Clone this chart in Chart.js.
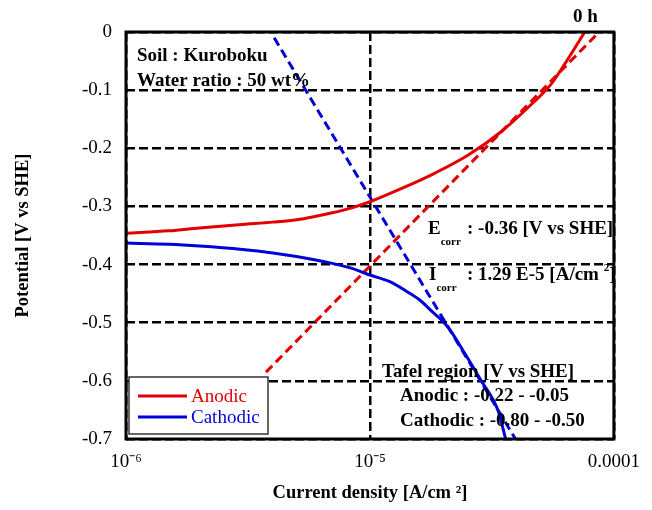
<!DOCTYPE html>
<html>
<head>
<meta charset="utf-8">
<script src="https://cdn.jsdelivr.net/npm/chart.js@4"></script>
<style>
  body { margin: 0; background: #fff; }
  #wrap { width: 652px; height: 510px; }
</style>
</head>
<body>
<div id="wrap"><canvas id="tafelChart"></canvas></div>
<script>
// Tafel plot (Kuroboku soil, 0 h)
const serif = '"Liberation Serif", "Times New Roman", serif';
const red = 'rgb(226,0,0)';
const blue = 'rgb(0,0,215)';

const xTicks = [1e-6, 1e-5, 1e-4];
const xTickLabels = ['10⁻⁶', '10⁻⁵', '0.0001'];
const yTicks = [0, -0.1, -0.2, -0.3, -0.4, -0.5, -0.6, -0.7];
const yTickLabels = ['0', '-0.1', '-0.2', '-0.3', '-0.4', '-0.5', '-0.6', '-0.7'];

// measured curves
const anodicI = [1e-6, 1.5e-6, 2e-6, 3e-6, 4e-6, 5e-6, 6e-6, 7e-6, 8.5e-6, 1e-5, 1.35e-5, 1.84e-5, 2.52e-5, 3.44e-5, 4.71e-5, 5.5e-5, 6.4e-5, 7.6e-5];
const anodicE = [-0.346, -0.342, -0.337, -0.331, -0.327, -0.323, -0.317, -0.311, -0.302, -0.292, -0.269, -0.243, -0.212, -0.172, -0.120, -0.091, -0.050, 0];
const cathodicI = [1e-6, 1.5e-6, 2e-6, 3e-6, 4e-6, 5e-6, 6e-6, 7e-6, 8.5e-6, 1e-5, 1.2e-5, 1.4e-5, 1.6e-5, 1.8e-5, 1.95e-5, 2.1e-5, 2.45e-5, 2.85e-5, 3.35e-5, 3.6e-5];
const cathodicE = [-0.363, -0.365, -0.368, -0.374, -0.380, -0.386, -0.392, -0.398, -0.407, -0.418, -0.429, -0.445, -0.461, -0.481, -0.494, -0.509, -0.553, -0.599, -0.651, -0.700];

// Tafel fit lines
const anodicTafelI = [3.75e-6, 8.7e-5];
const anodicTafelE = [-0.585, 0];
const cathodicTafelI = [4.05e-6, 3.95e-5];
const cathodicTafelE = [-0.01, -0.70];

const pts = (xs, ys) => xs.map((x, i) => ({ x: x, y: ys[i] }));

// frame, legend and notes
const decor = {
  id: 'decor',
  afterDatasetsDraw(chart) {
    const { ctx, chartArea: a } = chart;
    ctx.save();
    ctx.strokeStyle = '#000';
    ctx.lineWidth = 3;
    ctx.strokeRect(a.left, a.top, a.right - a.left, a.bottom - a.top);
    ctx.restore();
  },
  afterDraw(chart) {
    const ctx = chart.ctx;
    ctx.save();
    ctx.fillStyle = '#000';
    ctx.textBaseline = 'alphabetic';

    const bold = (s) => 'bold ' + s + 'px ' + serif;
    const rich = (parts, x, y) => {
      parts.forEach(p => {
        if (p.x) x = p.x;
        ctx.font = bold(p.size || 19);
        ctx.fillText(p.t, x, y + (p.dy || 0));
        x += ctx.measureText(p.t).width;
      });
    };

    ctx.font = bold(19);
    ctx.fillText('0 h', 573, 22);
    ctx.fillText('Soil : Kuroboku', 137, 61);
    ctx.fillText('Water ratio : 50 wt%', 137, 86);

    rich([{ t: 'E' }, { t: 'corr', size: 11, dy: 11 }, { t: ': -0.36 [V vs SHE]', x: 467 }], 428, 234);
    rich([{ t: 'I' }, { t: 'corr', size: 11, dy: 11 }, { t: ': 1.29 E-5 [A/cm ', x: 467 }, { t: '2', size: 11, dy: -9 }, { t: ']' }], 429, 280);

    ctx.font = bold(19);
    ctx.fillText('Tafel region [V vs SHE]', 382, 377);
    ctx.fillText('Anodic : -0.22 - -0.05', 400, 401);
    ctx.fillText('Cathodic : -0.80 - -0.50', 400, 426);

    // legend box
    ctx.fillStyle = '#fff';
    ctx.fillRect(129, 377, 139, 57);
    ctx.strokeStyle = '#333';
    ctx.lineWidth = 1.5;
    ctx.strokeRect(129, 377, 139, 57);
    const items = chart.data.datasets.filter(d => d.label);
    items.forEach((d, i) => {
      const y = 396 + i * 21;
      ctx.strokeStyle = d.borderColor;
      ctx.lineWidth = 3;
      ctx.beginPath();
      ctx.moveTo(138, y);
      ctx.lineTo(187, y);
      ctx.stroke();
      ctx.fillStyle = d.borderColor;
      ctx.font = '19px ' + serif;
      ctx.textBaseline = 'middle';
      ctx.fillText(d.label, 191, y + 1);
    });
    ctx.restore();
  }
};

const ctx = document.getElementById('tafelChart').getContext('2d');

new Chart(ctx, {
  type: 'line',
  data: {
    datasets: [
      { label: 'Anodic', data: pts(anodicI, anodicE), borderColor: red, borderWidth: 3, pointRadius: 0, cubicInterpolationMode: 'monotone' },
      { label: 'Cathodic', data: pts(cathodicI, cathodicE), borderColor: blue, borderWidth: 3, pointRadius: 0, cubicInterpolationMode: 'monotone' },
      { data: pts(anodicTafelI, anodicTafelE), borderColor: red, borderWidth: 3, borderDash: [9, 5], pointRadius: 0 },
      { data: pts(cathodicTafelI, cathodicTafelE), borderColor: blue, borderWidth: 3, borderDash: [9, 5], pointRadius: 0 }
    ]
  },
  options: {
    responsive: true,
    maintainAspectRatio: false,
    animation: false,
    layout: { padding: { top: 32, right: 35, left: 0, bottom: 0 } },
    plugins: { legend: { display: false }, tooltip: { enabled: false } },
    scales: {
      x: {
        type: 'logarithmic',
        min: 1e-6,
        max: 1e-4,
        afterBuildTicks: (s) => { s.ticks = xTicks.map(v => ({ value: v })); },
        afterFit: (s) => { s.height = 71; },
        ticks: {
          color: '#000',
          font: { family: serif, size: 19 },
          padding: 12,
          maxRotation: 0,
          autoSkip: false,
          callback: (v) => xTickLabels[xTicks.indexOf(v)]
        },
        grid: { color: '#000', lineWidth: 2.5, drawTicks: false },
        border: { display: false, dash: [9, 4] },
        title: {
          display: true,
          text: 'Current density [A/cm ²]',
          color: '#000',
          font: { family: serif, size: 18.5, weight: 'bold' },
          padding: { top: 0, bottom: 6 }
        }
      },
      y: {
        min: -0.7,
        max: 0,
        afterBuildTicks: (s) => { s.ticks = yTicks.map(v => ({ value: v })); },
        afterFit: (s) => { s.width = 126; },
        ticks: {
          color: '#000',
          font: { family: serif, size: 19 },
          padding: 14,
          callback: (v) => yTickLabels[yTicks.findIndex(t => Math.abs(t - v) < 1e-9)]
        },
        grid: { color: '#000', lineWidth: 2.5, drawTicks: false },
        border: { display: false, dash: [9, 4] },
        title: {
          display: true,
          text: 'Potential [V vs SHE]',
          color: '#000',
          font: { family: serif, size: 18.5, weight: 'bold' },
          padding: { top: 12, bottom: 0 }
        }
      }
    }
  },
  plugins: [decor]
});
</script>
</body>
</html>
